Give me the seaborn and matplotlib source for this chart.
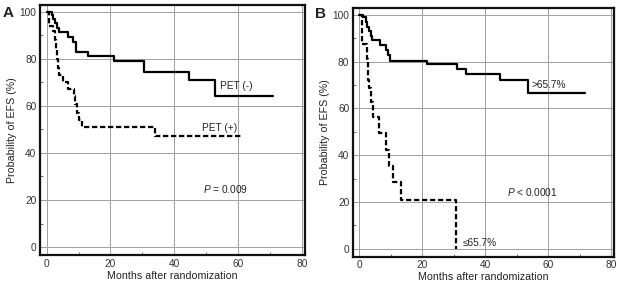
import matplotlib
matplotlib.use("Agg")
import matplotlib.pyplot as plt
import seaborn as sns
import pandas as pd
from matplotlib.ticker import MultipleLocator

# panel A: PET status
a_neg_x = [0, 1.6, 1.9, 2.6, 3.3, 4.0, 6.8, 8.2, 9.3, 13.1, 21.2, 30.5, 44.5, 52.8, 71.1]
a_neg_y = [100, 98.6, 97, 95, 93, 91.2, 89.1, 87.2, 83, 81.3, 79, 74.5, 70.9, 64.2, 64.2]
a_pos_x = [0, 0.8, 2.1, 2.6, 3.0, 3.3, 3.6, 3.9, 5.0, 6.8, 8.6, 9.0, 9.6, 10.2, 11.0, 34.0, 61.7]
a_pos_y = [100, 94, 92, 88, 84, 80, 76, 73, 70, 67, 64, 61, 57, 54, 51, 47, 47]

# panel B: SUV reduction
b_hi_x = [0, 1.3, 2.1, 2.5, 3.2, 3.6, 3.9, 6.6, 8.5, 9.2, 9.7, 21.6, 30.9, 33.8, 44.6, 53.6, 71.6]
b_hi_y = [100, 99, 96.9, 95, 93, 91, 89.1, 87.2, 85, 83, 80.1, 78.9, 76.7, 74.9, 72.1, 66.4, 66.4]
b_lo_x = [0, 0.7, 2.3, 2.6, 2.8, 3.0, 3.6, 4.4, 6.2, 8.5, 9.5, 10.8, 13.2, 30.7]
b_lo_y = [100, 87.5, 81, 75, 72, 68.9, 62.6, 56.2, 49.4, 42, 35.2, 28.4, 21, 0]

sns.set_style("white")
plt.rcParams['font.family'] = ['Liberation Sans', 'DejaVu Sans']
plt.rcParams['mathtext.fontset'] = 'custom'
plt.rcParams['mathtext.it'] = 'Liberation Sans:italic'
plt.rcParams['mathtext.rm'] = 'Liberation Sans'
plt.rcParams['text.color'] = '#222222'
plt.rcParams['axes.labelcolor'] = '#222222'

fig = plt.figure(figsize=(6.21, 2.85), dpi=100)
ax_a = fig.add_axes([0.0644, 0.105, 0.4266, 0.877])
ax_b = fig.add_axes([0.568, 0.0993, 0.421, 0.8717])


def draw(ax, sx, sy, dx, dy):
    solid = pd.DataFrame({'t': sx, 's': sy})
    dash = pd.DataFrame({'t': dx, 's': dy})
    sns.lineplot(data=solid, x='t', y='s', ax=ax, color='black', lw=1.6,
                 drawstyle='steps-post', estimator=None, sort=False)
    sns.lineplot(data=dash, x='t', y='s', ax=ax, color='black', lw=1.6,
                 drawstyle='steps-post', estimator=None, sort=False,
                 dashes=False, linestyle=(0, (2.4, 1.2)))
    ax.set_xlim(-2.1, 81)
    ax.set_ylim(-3.4, 102.8)
    ax.xaxis.set_major_locator(MultipleLocator(20))
    ax.yaxis.set_major_locator(MultipleLocator(20))
    ax.xaxis.set_minor_locator(MultipleLocator(10))
    ax.yaxis.set_minor_locator(MultipleLocator(10))
    ax.grid(True, which='major', color='#a0a0a0', lw=0.7)
    ax.set_axisbelow(True)
    ax.tick_params(which='major', length=0, labelsize=7.3, pad=2.5, colors='#333333')
    ax.tick_params(which='minor', direction='in', length=2.5, width=0.6, color='#555555')
    ax.tick_params(axis='both', which='minor', bottom=True, left=True)
    for sp in ax.spines.values():
        sp.set_visible(True)
        sp.set_color('#111111')
        sp.set_linewidth(1.6)
    ax.set_xlabel('Months after randomization', fontsize=7.7, labelpad=1.5)
    ax.set_ylabel('Probability of EFS (%)', fontsize=7.7, labelpad=2)


draw(ax_a, a_neg_x, a_neg_y, a_pos_x, a_pos_y)
ax_a.text(54.3, 68.4, 'PET (-)', fontsize=7.3, va='center')
ax_a.text(48.6, 50.6, 'PET (+)', fontsize=7.3, va='center')
ax_a.text(49, 24.5, r'$\it{P}$ = 0.009', fontsize=7.3, va='center')
fig.text(0.004, 0.955, 'A', fontsize=11, fontweight='bold', va='center')

draw(ax_b, b_hi_x, b_hi_y, b_lo_x, b_lo_y)
ax_b.text(54.7, 69.9, '>65.7%', fontsize=7.3, va='center')
ax_b.text(47, 24.1, r'$\it{P}$ < 0.0001', fontsize=7.3, va='center')
ax_b.text(32.8, 2.3, '≤65.7%', fontsize=7.3, va='center')
fig.text(0.508, 0.952, 'B', fontsize=11, fontweight='bold', va='center')

fig.savefig('out.png', dpi=100)
